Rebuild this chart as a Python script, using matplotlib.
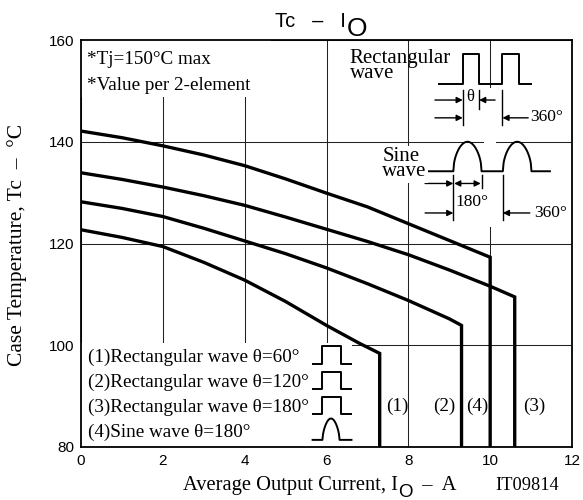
import numpy as np
import matplotlib
matplotlib.use('Agg')
import matplotlib.pyplot as plt
from matplotlib.patches import Rectangle

SERIF = 'Liberation Serif'
SANS = 'Liberation Sans'

# Tc - Io derating curves (Io in A, Tc in degC)
io_60 = [0, 1, 2, 3, 4, 5, 6, 6.8, 7.3]
tc_60 = [122.7, 121.2, 119.4, 116.3, 112.8, 108.6, 103.9, 100.4, 98.4]
io_120 = [0, 1, 2, 3, 4, 5, 6, 7, 8, 9, 9.3]
tc_120 = [128.2, 126.9, 125.3, 123.0, 120.5, 118.0, 115.2, 112.1, 108.8, 105.2, 103.9]
io_180 = [0, 1, 2, 3, 4, 5, 6, 7, 8, 9, 10, 10.6]
tc_180 = [133.9, 132.6, 131.1, 129.4, 127.5, 125.2, 122.8, 120.4, 117.8, 114.8, 111.6, 109.5]
io_sine = [0, 1, 2, 3, 4, 5, 6, 7, 8, 9, 10]
tc_sine = [142.1, 140.8, 139.2, 137.4, 135.3, 132.7, 129.9, 127.2, 123.9, 120.6, 117.3]

curve_tags = ['(1)', '(2)', '(4)', '(3)']
tag_x = [7.74, 8.88, 9.69, 11.07]
tag_y = 88.0

legend_lines = ['(1)Rectangular wave θ=60°',
                '(2)Rectangular wave θ=120°',
                '(3)Rectangular wave θ=180°',
                '(4)Sine wave θ=180°']

x_ticks = [0, 2, 4, 6, 8, 10, 12]
y_ticks = [80, 100, 120, 140, 160]

fig = plt.figure(figsize=(5.83, 5.0), dpi=100)
ax = fig.add_axes([81 / 583, 53 / 500, 491 / 583, 407 / 500])
ax.set_xlim(0, 12)
ax.set_ylim(80, 160)
ax.set_xticks(x_ticks)
ax.set_yticks(y_ticks)
ax.tick_params(length=0, labelsize=11, pad=5)
for lab in ax.get_xticklabels() + ax.get_yticklabels():
    lab.set_family(SANS)
ax.grid(True, color='#222222', lw=0.75)
ax.set_axisbelow(True)
for s in ax.spines.values():
    s.set_linewidth(1.3)

# white areas that hide the grid behind the notes
masks = [(0, 148.8, 4.65, 11.2), (0, 80, 6.63, 20.5),
         (8.56, 142.7, 3.4, 7.8), (9.85, 123.3, 0.3, 27.2),
         (8.3, 124.2, 3.65, 9.2)]
for (mx, my, mw, mh) in masks:
    ax.add_patch(Rectangle((mx, my), mw, mh, facecolor='white', edgecolor='none', zorder=1))

# curves
for xs, ys in [(io_60, tc_60), (io_120, tc_120), (io_180, tc_180), (io_sine, tc_sine)]:
    ax.plot(xs + [xs[-1]], ys + [80], color='k', lw=2.4, zorder=3, solid_joinstyle='miter')

for t, x in zip(curve_tags, tag_x):
    ax.text(x, tag_y, t, family=SERIF, fontsize=13.8, ha='center', va='center', zorder=5)

# notes top-left
ax.text(0.14, 156.1, '*Tj=150°C max', family=SERIF, fontsize=13.8, va='center', zorder=5)
ax.text(0.14, 151.1, '*Value per 2-element', family=SERIF, fontsize=13.8, va='center', zorder=5)

# legend block
for i, line in enumerate(legend_lines):
    ax.text(0.18, 97.66 - i * 4.92, line, family=SERIF, fontsize=13.8, va='center', zorder=5)

def rect_symbol(yc):
    ax.plot([5.66, 5.90, 5.90, 6.35, 6.35, 6.61], [yc - 1.3, yc - 1.3, yc + 2.1, yc + 2.1, yc - 1.3, yc - 1.3],
            color='k', lw=1.4, zorder=4)

for i in range(3):
    rect_symbol(97.66 - i * 4.92)
hx = np.linspace(0, 1, 30)
yc = 97.66 - 3 * 4.92
ax.plot(np.concatenate([[5.66], 5.90 + 0.42 * hx, [6.61]]),
        np.concatenate([[yc - 1.5], yc - 1.5 + 4.2 * np.sin(np.pi * hx) ** 0.6, [yc - 1.5]]),
        color='k', lw=1.4, zorder=4)

def arrow(x_from, x_to, y, style='-|>'):
    ax.annotate('', xy=(x_to, y), xytext=(x_from, y), zorder=4,
                arrowprops=dict(arrowstyle=style, lw=1.0, color='k', shrinkA=0, shrinkB=0,
                                mutation_scale=9))

def vline(x, y0, y1):
    ax.plot([x, x], [y0, y1], color='k', lw=1.0, zorder=4)

# rectangular wave diagram
ax.text(6.57, 154.85, 'Rectangular\nwave', family=SERIF, fontsize=15, va='center', ha='left',
        linespacing=0.72, zorder=5)
ax.plot([8.76, 9.33, 9.33, 9.73, 9.73, 10.30, 10.30, 10.71, 10.71, 10.99],
        [151.3, 151.3, 157.2, 157.2, 151.3, 151.3, 157.2, 157.2, 151.3, 151.3],
        color='k', lw=1.4, zorder=4)
vline(9.33, 150.2, 143.3)
vline(9.73, 150.2, 146.4)
vline(10.30, 150.2, 143.3)
arrow(8.65, 9.33, 148.2)
arrow(10.12, 9.73, 148.2)
ax.text(9.52, 148.8, 'θ', family=SERIF, fontsize=12, ha='center', va='center', zorder=5)
arrow(8.65, 9.33, 144.7)
arrow(10.93, 10.30, 144.7)
ax.text(10.97, 144.9, '360°', family=SERIF, fontsize=12.5, va='center', zorder=5)

# sine wave diagram
ax.text(7.36, 135.55, 'Sine\nwave', family=SERIF, fontsize=15, va='center', ha='left',
        linespacing=0.72, zorder=5, bbox=dict(facecolor='white', edgecolor='none', pad=1))
hx = np.linspace(0, 1, 40)
hump = 134.2 + 5.8 * np.sin(np.pi * hx) ** 0.5
sx = np.concatenate([[8.46], 9.10 + 0.69 * hx, 10.31 + 0.70 * hx, [11.46]])
sy = np.concatenate([[134.2], hump, hump, [134.2]])
ax.plot(sx, sy, color='k', lw=1.4, zorder=4)
vline(9.10, 133.4, 124.7)
vline(9.79, 133.4, 130.9)
vline(10.31, 133.4, 124.7)
arrow(8.41, 9.10, 131.8)
arrow(9.12, 9.77, 131.8, style='<|-|>')
ax.text(9.16, 128.2, '180°', family=SERIF, fontsize=12.5, va='center', zorder=5)
arrow(8.41, 9.10, 126.0)
arrow(10.97, 10.31, 126.0)
ax.text(11.07, 126.0, '360°', family=SERIF, fontsize=12.5, va='center', zorder=5)

# title  Tc - Io
t1 = fig.text(275 / 583, 1 - 27 / 500, 'Tc   –   I', family=SANS, fontsize=14.5, va='baseline')
ax.annotate('O', xy=(1, 0), xycoords=t1, xytext=(0.5, -7), textcoords='offset points',
            family=SANS, fontsize=19, ha='left', va='bottom', annotation_clip=False)

# x label with sans subscript O
t2 = fig.text(183 / 583, 1 - 490 / 500, 'Average Output Current, I', family=SERIF, fontsize=14.8,
              va='baseline')
t3 = ax.annotate('O', xy=(1, 0), xycoords=t2, xytext=(0, -4), textcoords='offset points',
                 family=SANS, fontsize=13.5, ha='left', va='bottom', annotation_clip=False)
ax.annotate('  –  A', xy=(1, 0), xycoords=t3, xytext=(0, 4), textcoords='offset points',
            family=SERIF, fontsize=14.8, ha='left', va='bottom', annotation_clip=False)

fig.text(17 / 583, 1 - 245 / 500, 'Case Temperature, Tc  –  °C', family=SERIF, fontsize=15.5,
         rotation=90, ha='center', va='center')
fig.text(527 / 583, 1 - 490 / 500, 'IT09814', family=SERIF, fontsize=13.2, ha='center', va='baseline')

fig.savefig('out.png', dpi=100)
